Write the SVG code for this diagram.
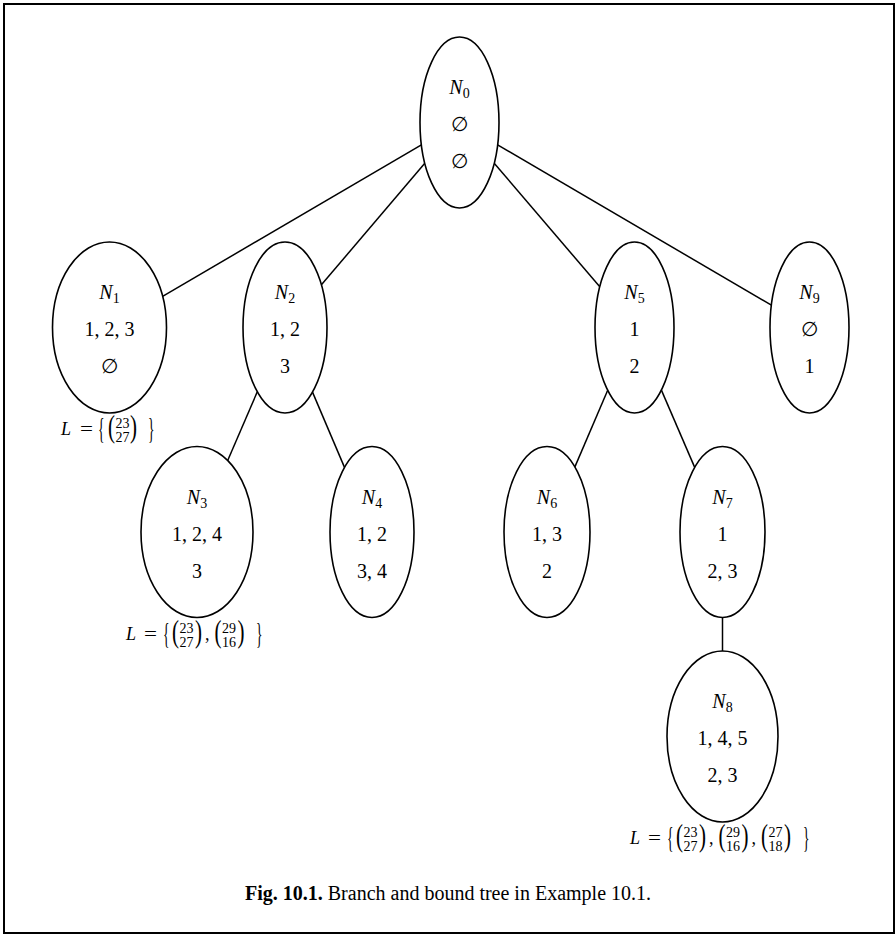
<svg xmlns="http://www.w3.org/2000/svg" width="896" height="936" viewBox="0 0 896 936">
<style>
text{font-family:"Liberation Serif","DejaVu Serif",serif;fill:#000}
.t{font-size:20px;text-anchor:middle}
.i{font-style:italic}
.s{font-size:14px}
.l{font-size:18px}
.n{font-size:14px;text-anchor:middle}
.p{font-size:31.7px}
.b{font-size:29px}
.e{fill:#fff;stroke:#000;stroke-width:1.6}
.c line{stroke:#000;stroke-width:1.5}
</style>
<rect x="4" y="4" width="890" height="929" fill="#fff" stroke="#000" stroke-width="2"/>
<g class="c" id="connectors">
<line x1="421.4" y1="144.8" x2="162.6" y2="296.4"/>
<line x1="424.8" y1="163.3" x2="321.4" y2="284.8"/>
<line x1="494.2" y1="163.2" x2="599.8" y2="286.8"/>
<line x1="497.6" y1="144.8" x2="771.4" y2="305.2"/>
<line x1="257.3" y1="391.8" x2="227.7" y2="460.5"/>
<line x1="312.5" y1="392.1" x2="344.5" y2="467.4"/>
<line x1="607.7" y1="390.2" x2="574.9" y2="466.9"/>
<line x1="661.4" y1="390.1" x2="694.7" y2="467.4"/>
<line x1="722.5" y1="617.5" x2="722.5" y2="651"/>
</g>
<g id="N0">
<ellipse class="e" cx="459.5" cy="122.5" rx="39.5" ry="85.5"/>
<text class="t" x="459.5" y="94"><tspan class="i">N</tspan><tspan class="s" dy="4">0</tspan></text>
<text class="t" x="459.5" y="131">∅</text>
<text class="t" x="459.5" y="168">∅</text>
</g>
<g id="N1">
<ellipse class="e" cx="109.5" cy="327.5" rx="57" ry="85.5"/>
<text class="t" x="109.5" y="299"><tspan class="i">N</tspan><tspan class="s" dy="4">1</tspan></text>
<text class="t" x="109.5" y="336">1, 2, 3</text>
<text class="t" x="109.5" y="373">∅</text>
<text class="l i" x="61" y="435">L</text>
<text class="l" x="80" y="435" textLength="13" lengthAdjust="spacingAndGlyphs">=</text>
<text class="b" x="98" y="437.7" textLength="6.5" lengthAdjust="spacingAndGlyphs">{</text>
<text class="p" x="108" y="437.4" textLength="7" lengthAdjust="spacingAndGlyphs">(</text>
<text class="n" x="122.5" y="428">23</text>
<text class="n" x="122.5" y="441.5">27</text>
<text class="p" x="130" y="437.4" textLength="7" lengthAdjust="spacingAndGlyphs">)</text>
<text class="b" x="148" y="437.7" textLength="6.5" lengthAdjust="spacingAndGlyphs">}</text>
</g>
<g id="N2">
<ellipse class="e" cx="285" cy="327.5" rx="42" ry="85.5"/>
<text class="t" x="285" y="299"><tspan class="i">N</tspan><tspan class="s" dy="4">2</tspan></text>
<text class="t" x="285" y="336">1, 2</text>
<text class="t" x="285" y="373">3</text>
</g>
<g id="N3">
<ellipse class="e" cx="197" cy="532" rx="56" ry="85.5"/>
<text class="t" x="197" y="503.5"><tspan class="i">N</tspan><tspan class="s" dy="4">3</tspan></text>
<text class="t" x="197" y="540.5">1, 2, 4</text>
<text class="t" x="197" y="577.5">3</text>
<text class="l i" x="126" y="640">L</text>
<text class="l" x="144" y="640" textLength="13" lengthAdjust="spacingAndGlyphs">=</text>
<text class="b" x="163" y="642.7" textLength="6.5" lengthAdjust="spacingAndGlyphs">{</text>
<text class="p" x="172" y="642.4" textLength="7" lengthAdjust="spacingAndGlyphs">(</text>
<text class="n" x="186.5" y="633">23</text>
<text class="n" x="186.5" y="646.5">27</text>
<text class="p" x="195" y="642.4" textLength="7" lengthAdjust="spacingAndGlyphs">)</text>
<text class="l" x="205" y="640">,</text>
<text class="p" x="214.5" y="642.4" textLength="7" lengthAdjust="spacingAndGlyphs">(</text>
<text class="n" x="229" y="633">29</text>
<text class="n" x="229" y="646.5">16</text>
<text class="p" x="237.5" y="642.4" textLength="7" lengthAdjust="spacingAndGlyphs">)</text>
<text class="b" x="256" y="642.7" textLength="6.5" lengthAdjust="spacingAndGlyphs">}</text>
</g>
<g id="N4">
<ellipse class="e" cx="372" cy="532" rx="42" ry="85.5"/>
<text class="t" x="372" y="503.5"><tspan class="i">N</tspan><tspan class="s" dy="4">4</tspan></text>
<text class="t" x="372" y="540.5">1, 2</text>
<text class="t" x="372" y="577.5">3, 4</text>
</g>
<g id="N5">
<ellipse class="e" cx="634.5" cy="327.5" rx="39.5" ry="85.5"/>
<text class="t" x="634.5" y="299"><tspan class="i">N</tspan><tspan class="s" dy="4">5</tspan></text>
<text class="t" x="634.5" y="336">1</text>
<text class="t" x="634.5" y="373">2</text>
</g>
<g id="N6">
<ellipse class="e" cx="547" cy="532" rx="43" ry="85.5"/>
<text class="t" x="547" y="503.5"><tspan class="i">N</tspan><tspan class="s" dy="4">6</tspan></text>
<text class="t" x="547" y="540.5">1, 3</text>
<text class="t" x="547" y="577.5">2</text>
</g>
<g id="N7">
<ellipse class="e" cx="722.5" cy="532" rx="42.5" ry="85.5"/>
<text class="t" x="722.5" y="503.5"><tspan class="i">N</tspan><tspan class="s" dy="4">7</tspan></text>
<text class="t" x="722.5" y="540.5">1</text>
<text class="t" x="722.5" y="577.5">2, 3</text>
</g>
<g id="N8">
<ellipse class="e" cx="722.5" cy="736.5" rx="55.5" ry="85.5"/>
<text class="t" x="722.5" y="708"><tspan class="i">N</tspan><tspan class="s" dy="4">8</tspan></text>
<text class="t" x="722.5" y="745">1, 4, 5</text>
<text class="t" x="722.5" y="782">2, 3</text>
<text class="l i" x="630" y="844">L</text>
<text class="l" x="648" y="844" textLength="13" lengthAdjust="spacingAndGlyphs">=</text>
<text class="b" x="667" y="846.7" textLength="6.5" lengthAdjust="spacingAndGlyphs">{</text>
<text class="p" x="676" y="846.4" textLength="7" lengthAdjust="spacingAndGlyphs">(</text>
<text class="n" x="690.5" y="837">23</text>
<text class="n" x="690.5" y="850.5">27</text>
<text class="p" x="699" y="846.4" textLength="7" lengthAdjust="spacingAndGlyphs">)</text>
<text class="l" x="709" y="844">,</text>
<text class="p" x="718.5" y="846.4" textLength="7" lengthAdjust="spacingAndGlyphs">(</text>
<text class="n" x="733" y="837">29</text>
<text class="n" x="733" y="850.5">16</text>
<text class="p" x="741.5" y="846.4" textLength="7" lengthAdjust="spacingAndGlyphs">)</text>
<text class="l" x="751.5" y="844">,</text>
<text class="p" x="761" y="846.4" textLength="7" lengthAdjust="spacingAndGlyphs">(</text>
<text class="n" x="775.5" y="837">27</text>
<text class="n" x="775.5" y="850.5">18</text>
<text class="p" x="784" y="846.4" textLength="7" lengthAdjust="spacingAndGlyphs">)</text>
<text class="b" x="803" y="846.7" textLength="6.5" lengthAdjust="spacingAndGlyphs">}</text>
</g>
<g id="N9">
<ellipse class="e" cx="809.5" cy="327.5" rx="39.5" ry="85.5"/>
<text class="t" x="809.5" y="299"><tspan class="i">N</tspan><tspan class="s" dy="4">9</tspan></text>
<text class="t" x="809.5" y="336">∅</text>
<text class="t" x="809.5" y="373">1</text>
</g>
<g id="caption">
<text class="t" x="448" y="900"><tspan font-weight="bold">Fig. 10.1.</tspan> Branch and bound tree in Example 10.1.</text>
</g>
</svg>
